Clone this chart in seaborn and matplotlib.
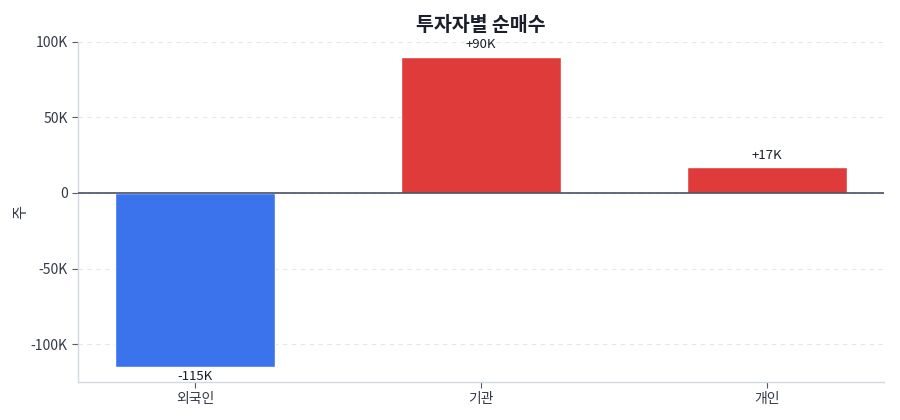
import matplotlib
matplotlib.use("Agg")
import matplotlib.pyplot as plt
import seaborn as sns
import pandas as pd
from matplotlib.ticker import FuncFormatter

# data
investors = ["외국인", "기관", "개인"]
net_buy = [-115000, 90000, 17000]
bar_colors = ["#3b73ec", "#e03b3b", "#e03b3b"]

sns.set_theme(style="white")
plt.rcParams['font.family'] = ['Noto Sans CJK KR', 'DejaVu Sans']

df = pd.DataFrame({"investor": investors, "net": net_buy})

fig = plt.figure(figsize=(9, 4.2), dpi=100)
ax = fig.add_axes([0.0867, 0.0905, 0.8955, 0.81])

sns.barplot(data=df, x="investor", y="net", hue="investor",
            palette=bar_colors, width=0.56, saturation=1,
            legend=False, ax=ax)

ax.set_xlim(-0.41, 2.41)
ax.set_ylim(-125000, 100000)
ax.set_yticks([-100000, -50000, 0, 50000, 100000])

def fmt_k(v, pos):
    if v == 0:
        return "0"
    return f"{int(v / 1000)}K"

ax.yaxis.set_major_formatter(FuncFormatter(fmt_k))

ax.grid(axis="y", linestyle=(0, (4, 4)), color="#e3e6ea", linewidth=0.8)
ax.set_axisbelow(True)
ax.axhline(0, color="#4a5064", linewidth=1.2, zorder=3)

for s in ["top", "right"]:
    ax.spines[s].set_visible(False)
for s in ["left", "bottom"]:
    ax.spines[s].set_color("#d3d7de")
    ax.spines[s].set_linewidth(1.0)

ax.tick_params(axis="both", colors="#555b66", labelcolor="#333a45",
               labelsize=10, length=4, width=0.8, left=True, bottom=True)

ax.set_xlabel("")
ax.set_ylabel("주", fontsize=11, color="#333a45", labelpad=1)
ax.set_title("투자자별 순매수", fontsize=14, fontweight="bold",
             color="#1a1f2b", pad=8)

# value labels
for i, v in enumerate(net_buy):
    label = f"+{v // 1000}K" if v > 0 else f"-{abs(v) // 1000}K"
    if v > 0:
        ax.annotate(label, (i, v), xytext=(0, 4), textcoords="offset points",
                    ha="center", va="bottom", fontsize=9.5, color="#1a1f2b")
    else:
        ax.annotate(label, (i, v), xytext=(0, -2), textcoords="offset points",
                    ha="center", va="top", fontsize=9.5, color="#1a1f2b")

fig.savefig("out.png", dpi=100)
